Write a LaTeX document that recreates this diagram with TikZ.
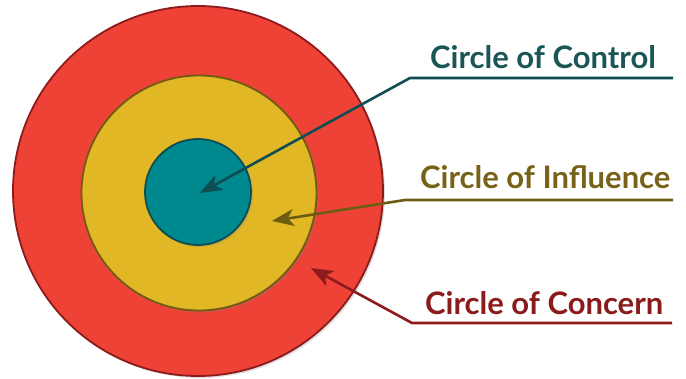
\documentclass[tikz,border=0pt]{standalone}
\usepackage{fontspec}
\setmainfont{Lato}
\usetikzlibrary{arrows.meta,shadows}
\definecolor{redfill}{HTML}{EE4237}
\definecolor{redline}{HTML}{8E1B1B}
\definecolor{yelfill}{HTML}{E2B726}
\definecolor{yelline}{HTML}{6E5C12}
\definecolor{tealfill}{HTML}{00888F}
\definecolor{tealline}{HTML}{0E4E52}
\definecolor{ctltext}{HTML}{1A5656}
\definecolor{inftext}{HTML}{776218}
\definecolor{context}{HTML}{8B1A1A}
\tikzset{
  ring/.style={circle, inner sep=0pt, line width=1.8pt,
    drop shadow={opacity=0.25, shadow xshift=2pt, shadow yshift=-2pt}},
  lbl/.style={anchor=base west, inner sep=0pt, font=\bfseries\fontsize{31}{33}\selectfont},
  pointer/.style={line width=2.6pt, line join=round,
    -{Stealth[length=22pt,width=17pt,inset=6pt]}},
}
\begin{document}
\begin{tikzpicture}[x=1pt,y=-1pt]
\useasboundingbox (0,0) rectangle (686,379);
\fill[white] (0,0) rectangle (686,379);
\node[ring, fill=redfill, draw=redline, minimum size=370pt] (concern) at (198,191) {};
\node[ring, fill=yelfill, draw=yelline, minimum size=235pt] (influence) at (199,193) {};
\node[ring, fill=tealfill, draw=tealline, minimum size=106pt] (control) at (198,192) {};
% labels
\node[lbl, text=ctltext] (lctl) at (430,69) {Circle of Control};
\node[lbl, text=inftext] (linf) at (420,189) {Circle of Influence};
\node[lbl, text=context] (lcon) at (425,315) {Circle of Concern};
% coordinates
\coordinate (ctlend) at (673,78);
\coordinate (ctlbend) at (410,78);
\coordinate (ctltip) at (200,193);
\coordinate (infend) at (673,200);
\coordinate (infbend) at (405,200);
\coordinate (inftip) at (272,221);
\coordinate (conend) at (672,323);
\coordinate (conbend) at (412,323);
\coordinate (contip) at (311,268);
\draw[pointer, draw=tealline] (ctlend) -- (ctlbend) -- (ctltip);
\draw[pointer, draw=yelline] (infend) -- (infbend) -- (inftip);
\draw[pointer, draw=redline] (conend) -- (conbend) -- (contip);
\end{tikzpicture}
\end{document}
